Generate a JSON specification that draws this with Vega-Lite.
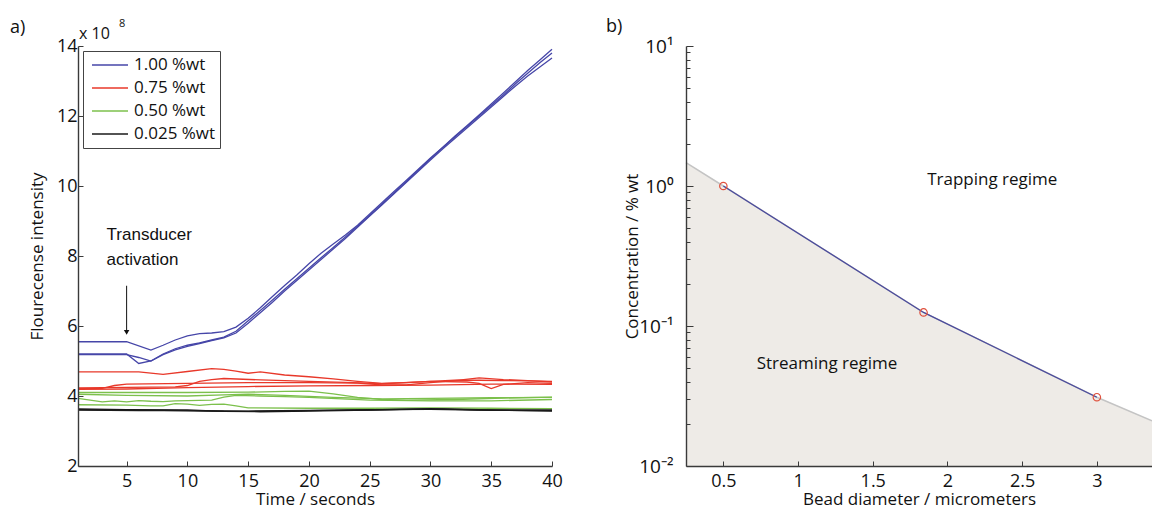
{
  "$schema": "https://vega.github.io/schema/vega-lite/v6.json",
  "background": "white",
  "padding": {"left": 10, "top": 18, "right": 0, "bottom": 0},
  "bounds": "flush",
  "spacing": 134,
  "config": {
    "font": "Open Sans",
    "view": {"stroke": null},
    "axis": {
      "grid": false,
      "zindex": 1,
      "domainColor": "#3a3a3a",
      "domainWidth": 1.4,
      "tickColor": "#3a3a3a",
      "tickWidth": 1,
      "tickSize": -5,
      "labelPadding": 6,
      "labelFlush": false,
      "labelColor": "#111",
      "titleColor": "#111",
      "labelFont": "Open Sans",
      "titleFont": "Open Sans",
      "labelFontSize": 18,
      "titleFontSize": 17,
      "titleFontWeight": "normal"
    }
  },
  "datasets": {
    "runs": [
      {"t":1,"v":5.55,"c":"1.00 %wt","r":"b1"},{"t":5,"v":5.55,"c":"1.00 %wt","r":"b1"},{"t":7,"v":5.31,"c":"1.00 %wt","r":"b1"},{"t":8,"v":5.45,"c":"1.00 %wt","r":"b1"},{"t":9,"v":5.6,"c":"1.00 %wt","r":"b1"},{"t":10,"v":5.72,"c":"1.00 %wt","r":"b1"},{"t":11,"v":5.78,"c":"1.00 %wt","r":"b1"},{"t":12,"v":5.8,"c":"1.00 %wt","r":"b1"},{"t":13,"v":5.84,"c":"1.00 %wt","r":"b1"},{"t":14,"v":5.97,"c":"1.00 %wt","r":"b1"},{"t":15,"v":6.22,"c":"1.00 %wt","r":"b1"},{"t":16,"v":6.52,"c":"1.00 %wt","r":"b1"},{"t":17,"v":6.84,"c":"1.00 %wt","r":"b1"},{"t":18,"v":7.16,"c":"1.00 %wt","r":"b1"},{"t":19,"v":7.46,"c":"1.00 %wt","r":"b1"},{"t":20,"v":7.78,"c":"1.00 %wt","r":"b1"},{"t":21,"v":8.08,"c":"1.00 %wt","r":"b1"},{"t":22,"v":8.34,"c":"1.00 %wt","r":"b1"},{"t":23,"v":8.6,"c":"1.00 %wt","r":"b1"},{"t":24,"v":8.88,"c":"1.00 %wt","r":"b1"},{"t":25,"v":9.2,"c":"1.00 %wt","r":"b1"},{"t":26,"v":9.52,"c":"1.00 %wt","r":"b1"},{"t":27,"v":9.84,"c":"1.00 %wt","r":"b1"},{"t":28,"v":10.16,"c":"1.00 %wt","r":"b1"},{"t":29,"v":10.48,"c":"1.00 %wt","r":"b1"},{"t":30,"v":10.8,"c":"1.00 %wt","r":"b1"},{"t":31,"v":11.1,"c":"1.00 %wt","r":"b1"},{"t":32,"v":11.4,"c":"1.00 %wt","r":"b1"},{"t":33,"v":11.7,"c":"1.00 %wt","r":"b1"},{"t":34,"v":12.0,"c":"1.00 %wt","r":"b1"},{"t":35,"v":12.3,"c":"1.00 %wt","r":"b1"},{"t":36,"v":12.6,"c":"1.00 %wt","r":"b1"},{"t":37,"v":12.92,"c":"1.00 %wt","r":"b1"},{"t":38,"v":13.22,"c":"1.00 %wt","r":"b1"},{"t":39,"v":13.52,"c":"1.00 %wt","r":"b1"},{"t":40,"v":13.8,"c":"1.00 %wt","r":"b1"},
      {"t":1,"v":5.2,"c":"1.00 %wt","r":"b2"},{"t":5,"v":5.2,"c":"1.00 %wt","r":"b2"},{"t":6,"v":4.93,"c":"1.00 %wt","r":"b2"},{"t":7,"v":5.0,"c":"1.00 %wt","r":"b2"},{"t":8,"v":5.2,"c":"1.00 %wt","r":"b2"},{"t":9,"v":5.35,"c":"1.00 %wt","r":"b2"},{"t":10,"v":5.45,"c":"1.00 %wt","r":"b2"},{"t":11,"v":5.52,"c":"1.00 %wt","r":"b2"},{"t":12,"v":5.6,"c":"1.00 %wt","r":"b2"},{"t":13,"v":5.68,"c":"1.00 %wt","r":"b2"},{"t":14,"v":5.85,"c":"1.00 %wt","r":"b2"},{"t":15,"v":6.15,"c":"1.00 %wt","r":"b2"},{"t":16,"v":6.44,"c":"1.00 %wt","r":"b2"},{"t":17,"v":6.74,"c":"1.00 %wt","r":"b2"},{"t":18,"v":7.05,"c":"1.00 %wt","r":"b2"},{"t":19,"v":7.35,"c":"1.00 %wt","r":"b2"},{"t":20,"v":7.65,"c":"1.00 %wt","r":"b2"},{"t":21,"v":7.95,"c":"1.00 %wt","r":"b2"},{"t":22,"v":8.24,"c":"1.00 %wt","r":"b2"},{"t":23,"v":8.54,"c":"1.00 %wt","r":"b2"},{"t":24,"v":8.85,"c":"1.00 %wt","r":"b2"},{"t":25,"v":9.16,"c":"1.00 %wt","r":"b2"},{"t":26,"v":9.48,"c":"1.00 %wt","r":"b2"},{"t":27,"v":9.8,"c":"1.00 %wt","r":"b2"},{"t":28,"v":10.12,"c":"1.00 %wt","r":"b2"},{"t":29,"v":10.45,"c":"1.00 %wt","r":"b2"},{"t":30,"v":10.78,"c":"1.00 %wt","r":"b2"},{"t":31,"v":11.1,"c":"1.00 %wt","r":"b2"},{"t":32,"v":11.42,"c":"1.00 %wt","r":"b2"},{"t":33,"v":11.72,"c":"1.00 %wt","r":"b2"},{"t":34,"v":12.03,"c":"1.00 %wt","r":"b2"},{"t":35,"v":12.34,"c":"1.00 %wt","r":"b2"},{"t":36,"v":12.66,"c":"1.00 %wt","r":"b2"},{"t":37,"v":12.98,"c":"1.00 %wt","r":"b2"},{"t":38,"v":13.3,"c":"1.00 %wt","r":"b2"},{"t":39,"v":13.6,"c":"1.00 %wt","r":"b2"},{"t":40,"v":13.91,"c":"1.00 %wt","r":"b2"},
      {"t":1,"v":5.18,"c":"1.00 %wt","r":"b3"},{"t":5,"v":5.18,"c":"1.00 %wt","r":"b3"},{"t":6,"v":5.1,"c":"1.00 %wt","r":"b3"},{"t":7,"v":5.0,"c":"1.00 %wt","r":"b3"},{"t":8,"v":5.18,"c":"1.00 %wt","r":"b3"},{"t":9,"v":5.32,"c":"1.00 %wt","r":"b3"},{"t":10,"v":5.42,"c":"1.00 %wt","r":"b3"},{"t":11,"v":5.5,"c":"1.00 %wt","r":"b3"},{"t":12,"v":5.58,"c":"1.00 %wt","r":"b3"},{"t":13,"v":5.66,"c":"1.00 %wt","r":"b3"},{"t":14,"v":5.8,"c":"1.00 %wt","r":"b3"},{"t":15,"v":6.08,"c":"1.00 %wt","r":"b3"},{"t":16,"v":6.38,"c":"1.00 %wt","r":"b3"},{"t":17,"v":6.68,"c":"1.00 %wt","r":"b3"},{"t":18,"v":7.0,"c":"1.00 %wt","r":"b3"},{"t":19,"v":7.3,"c":"1.00 %wt","r":"b3"},{"t":20,"v":7.6,"c":"1.00 %wt","r":"b3"},{"t":21,"v":7.9,"c":"1.00 %wt","r":"b3"},{"t":22,"v":8.2,"c":"1.00 %wt","r":"b3"},{"t":23,"v":8.5,"c":"1.00 %wt","r":"b3"},{"t":24,"v":8.82,"c":"1.00 %wt","r":"b3"},{"t":25,"v":9.14,"c":"1.00 %wt","r":"b3"},{"t":26,"v":9.46,"c":"1.00 %wt","r":"b3"},{"t":27,"v":9.78,"c":"1.00 %wt","r":"b3"},{"t":28,"v":10.1,"c":"1.00 %wt","r":"b3"},{"t":29,"v":10.42,"c":"1.00 %wt","r":"b3"},{"t":30,"v":10.74,"c":"1.00 %wt","r":"b3"},{"t":31,"v":11.06,"c":"1.00 %wt","r":"b3"},{"t":32,"v":11.36,"c":"1.00 %wt","r":"b3"},{"t":33,"v":11.66,"c":"1.00 %wt","r":"b3"},{"t":34,"v":11.96,"c":"1.00 %wt","r":"b3"},{"t":35,"v":12.26,"c":"1.00 %wt","r":"b3"},{"t":36,"v":12.56,"c":"1.00 %wt","r":"b3"},{"t":37,"v":12.86,"c":"1.00 %wt","r":"b3"},{"t":38,"v":13.14,"c":"1.00 %wt","r":"b3"},{"t":39,"v":13.4,"c":"1.00 %wt","r":"b3"},{"t":40,"v":13.66,"c":"1.00 %wt","r":"b3"},
      {"t":1,"v":4.69,"c":"0.75 %wt","r":"r1"},{"t":6,"v":4.69,"c":"0.75 %wt","r":"r1"},{"t":8,"v":4.62,"c":"0.75 %wt","r":"r1"},{"t":10,"v":4.7,"c":"0.75 %wt","r":"r1"},{"t":12,"v":4.78,"c":"0.75 %wt","r":"r1"},{"t":13,"v":4.76,"c":"0.75 %wt","r":"r1"},{"t":14,"v":4.71,"c":"0.75 %wt","r":"r1"},{"t":15,"v":4.65,"c":"0.75 %wt","r":"r1"},{"t":16,"v":4.69,"c":"0.75 %wt","r":"r1"},{"t":18,"v":4.6,"c":"0.75 %wt","r":"r1"},{"t":20,"v":4.55,"c":"0.75 %wt","r":"r1"},{"t":22,"v":4.49,"c":"0.75 %wt","r":"r1"},{"t":24,"v":4.42,"c":"0.75 %wt","r":"r1"},{"t":26,"v":4.36,"c":"0.75 %wt","r":"r1"},{"t":28,"v":4.38,"c":"0.75 %wt","r":"r1"},{"t":30,"v":4.42,"c":"0.75 %wt","r":"r1"},{"t":32,"v":4.45,"c":"0.75 %wt","r":"r1"},{"t":34,"v":4.45,"c":"0.75 %wt","r":"r1"},{"t":36,"v":4.44,"c":"0.75 %wt","r":"r1"},{"t":38,"v":4.43,"c":"0.75 %wt","r":"r1"},{"t":40,"v":4.42,"c":"0.75 %wt","r":"r1"},
      {"t":1,"v":4.21,"c":"0.75 %wt","r":"r2"},{"t":3,"v":4.22,"c":"0.75 %wt","r":"r2"},{"t":4,"v":4.3,"c":"0.75 %wt","r":"r2"},{"t":5,"v":4.34,"c":"0.75 %wt","r":"r2"},{"t":10,"v":4.36,"c":"0.75 %wt","r":"r2"},{"t":15,"v":4.38,"c":"0.75 %wt","r":"r2"},{"t":20,"v":4.38,"c":"0.75 %wt","r":"r2"},{"t":24,"v":4.37,"c":"0.75 %wt","r":"r2"},{"t":26,"v":4.32,"c":"0.75 %wt","r":"r2"},{"t":28,"v":4.32,"c":"0.75 %wt","r":"r2"},{"t":30,"v":4.38,"c":"0.75 %wt","r":"r2"},{"t":32,"v":4.44,"c":"0.75 %wt","r":"r2"},{"t":34,"v":4.52,"c":"0.75 %wt","r":"r2"},{"t":36,"v":4.47,"c":"0.75 %wt","r":"r2"},{"t":38,"v":4.44,"c":"0.75 %wt","r":"r2"},{"t":40,"v":4.4,"c":"0.75 %wt","r":"r2"},
      {"t":1,"v":4.23,"c":"0.75 %wt","r":"r3"},{"t":9,"v":4.26,"c":"0.75 %wt","r":"r3"},{"t":10,"v":4.3,"c":"0.75 %wt","r":"r3"},{"t":11,"v":4.42,"c":"0.75 %wt","r":"r3"},{"t":12,"v":4.47,"c":"0.75 %wt","r":"r3"},{"t":13,"v":4.5,"c":"0.75 %wt","r":"r3"},{"t":16,"v":4.46,"c":"0.75 %wt","r":"r3"},{"t":20,"v":4.42,"c":"0.75 %wt","r":"r3"},{"t":23,"v":4.39,"c":"0.75 %wt","r":"r3"},{"t":26,"v":4.35,"c":"0.75 %wt","r":"r3"},{"t":30,"v":4.42,"c":"0.75 %wt","r":"r3"},{"t":33,"v":4.4,"c":"0.75 %wt","r":"r3"},{"t":34,"v":4.36,"c":"0.75 %wt","r":"r3"},{"t":35,"v":4.21,"c":"0.75 %wt","r":"r3"},{"t":36,"v":4.33,"c":"0.75 %wt","r":"r3"},{"t":38,"v":4.38,"c":"0.75 %wt","r":"r3"},{"t":40,"v":4.36,"c":"0.75 %wt","r":"r3"},
      {"t":1,"v":4.19,"c":"0.75 %wt","r":"r4"},{"t":5,"v":4.2,"c":"0.75 %wt","r":"r4"},{"t":10,"v":4.24,"c":"0.75 %wt","r":"r4"},{"t":15,"v":4.27,"c":"0.75 %wt","r":"r4"},{"t":20,"v":4.29,"c":"0.75 %wt","r":"r4"},{"t":25,"v":4.3,"c":"0.75 %wt","r":"r4"},{"t":30,"v":4.31,"c":"0.75 %wt","r":"r4"},{"t":35,"v":4.34,"c":"0.75 %wt","r":"r4"},{"t":40,"v":4.33,"c":"0.75 %wt","r":"r4"},
      {"t":1,"v":4.1,"c":"0.50 %wt","r":"g1"},{"t":5,"v":4.1,"c":"0.50 %wt","r":"g1"},{"t":10,"v":4.1,"c":"0.50 %wt","r":"g1"},{"t":15,"v":4.11,"c":"0.50 %wt","r":"g1"},{"t":18,"v":4.13,"c":"0.50 %wt","r":"g1"},{"t":20,"v":4.14,"c":"0.50 %wt","r":"g1"},{"t":22,"v":4.06,"c":"0.50 %wt","r":"g1"},{"t":24,"v":3.96,"c":"0.50 %wt","r":"g1"},{"t":26,"v":3.9,"c":"0.50 %wt","r":"g1"},{"t":28,"v":3.88,"c":"0.50 %wt","r":"g1"},{"t":32,"v":3.9,"c":"0.50 %wt","r":"g1"},{"t":36,"v":3.94,"c":"0.50 %wt","r":"g1"},{"t":40,"v":3.97,"c":"0.50 %wt","r":"g1"},
      {"t":1,"v":4.05,"c":"0.50 %wt","r":"g2"},{"t":5,"v":4.02,"c":"0.50 %wt","r":"g2"},{"t":10,"v":4.0,"c":"0.50 %wt","r":"g2"},{"t":13,"v":4.03,"c":"0.50 %wt","r":"g2"},{"t":15,"v":4.05,"c":"0.50 %wt","r":"g2"},{"t":18,"v":4.02,"c":"0.50 %wt","r":"g2"},{"t":22,"v":3.96,"c":"0.50 %wt","r":"g2"},{"t":26,"v":3.92,"c":"0.50 %wt","r":"g2"},{"t":30,"v":3.93,"c":"0.50 %wt","r":"g2"},{"t":35,"v":3.95,"c":"0.50 %wt","r":"g2"},{"t":40,"v":3.96,"c":"0.50 %wt","r":"g2"},
      {"t":1,"v":3.93,"c":"0.50 %wt","r":"g3"},{"t":2,"v":3.88,"c":"0.50 %wt","r":"g3"},{"t":3,"v":3.83,"c":"0.50 %wt","r":"g3"},{"t":4,"v":3.86,"c":"0.50 %wt","r":"g3"},{"t":5,"v":3.83,"c":"0.50 %wt","r":"g3"},{"t":6,"v":3.87,"c":"0.50 %wt","r":"g3"},{"t":7,"v":3.85,"c":"0.50 %wt","r":"g3"},{"t":8,"v":3.84,"c":"0.50 %wt","r":"g3"},{"t":9,"v":3.86,"c":"0.50 %wt","r":"g3"},{"t":10,"v":3.87,"c":"0.50 %wt","r":"g3"},{"t":12,"v":3.88,"c":"0.50 %wt","r":"g3"},{"t":13,"v":3.97,"c":"0.50 %wt","r":"g3"},{"t":14,"v":4.02,"c":"0.50 %wt","r":"g3"},{"t":16,"v":4.0,"c":"0.50 %wt","r":"g3"},{"t":18,"v":3.98,"c":"0.50 %wt","r":"g3"},{"t":20,"v":3.96,"c":"0.50 %wt","r":"g3"},{"t":25,"v":3.88,"c":"0.50 %wt","r":"g3"},{"t":30,"v":3.86,"c":"0.50 %wt","r":"g3"},{"t":35,"v":3.86,"c":"0.50 %wt","r":"g3"},{"t":40,"v":3.9,"c":"0.50 %wt","r":"g3"},
      {"t":1,"v":3.75,"c":"0.50 %wt","r":"g4"},{"t":5,"v":3.74,"c":"0.50 %wt","r":"g4"},{"t":7,"v":3.72,"c":"0.50 %wt","r":"g4"},{"t":8,"v":3.72,"c":"0.50 %wt","r":"g4"},{"t":9,"v":3.78,"c":"0.50 %wt","r":"g4"},{"t":10,"v":3.77,"c":"0.50 %wt","r":"g4"},{"t":11,"v":3.73,"c":"0.50 %wt","r":"g4"},{"t":12,"v":3.76,"c":"0.50 %wt","r":"g4"},{"t":13,"v":3.77,"c":"0.50 %wt","r":"g4"},{"t":14,"v":3.72,"c":"0.50 %wt","r":"g4"},{"t":15,"v":3.66,"c":"0.50 %wt","r":"g4"},{"t":20,"v":3.65,"c":"0.50 %wt","r":"g4"},{"t":25,"v":3.65,"c":"0.50 %wt","r":"g4"},{"t":30,"v":3.66,"c":"0.50 %wt","r":"g4"},{"t":35,"v":3.65,"c":"0.50 %wt","r":"g4"},{"t":40,"v":3.64,"c":"0.50 %wt","r":"g4"},
      {"t":1,"v":3.63,"c":"0.025 %wt","r":"k1"},{"t":5,"v":3.61,"c":"0.025 %wt","r":"k1"},{"t":10,"v":3.6,"c":"0.025 %wt","r":"k1"},{"t":13,"v":3.56,"c":"0.025 %wt","r":"k1"},{"t":16,"v":3.55,"c":"0.025 %wt","r":"k1"},{"t":20,"v":3.57,"c":"0.025 %wt","r":"k1"},{"t":25,"v":3.6,"c":"0.025 %wt","r":"k1"},{"t":30,"v":3.64,"c":"0.025 %wt","r":"k1"},{"t":32,"v":3.62,"c":"0.025 %wt","r":"k1"},{"t":35,"v":3.59,"c":"0.025 %wt","r":"k1"},{"t":40,"v":3.58,"c":"0.025 %wt","r":"k1"},
      {"t":1,"v":3.61,"c":"0.025 %wt","r":"k2"},{"t":5,"v":3.6,"c":"0.025 %wt","r":"k2"},{"t":8,"v":3.59,"c":"0.025 %wt","r":"k2"},{"t":12,"v":3.57,"c":"0.025 %wt","r":"k2"},{"t":16,"v":3.56,"c":"0.025 %wt","r":"k2"},{"t":20,"v":3.58,"c":"0.025 %wt","r":"k2"},{"t":25,"v":3.61,"c":"0.025 %wt","r":"k2"},{"t":30,"v":3.62,"c":"0.025 %wt","r":"k2"},{"t":34,"v":3.6,"c":"0.025 %wt","r":"k2"},{"t":40,"v":3.6,"c":"0.025 %wt","r":"k2"},
      {"t":1,"v":3.6,"c":"0.025 %wt","r":"k3"},{"t":6,"v":3.58,"c":"0.025 %wt","r":"k3"},{"t":10,"v":3.58,"c":"0.025 %wt","r":"k3"},{"t":15,"v":3.57,"c":"0.025 %wt","r":"k3"},{"t":20,"v":3.59,"c":"0.025 %wt","r":"k3"},{"t":25,"v":3.6,"c":"0.025 %wt","r":"k3"},{"t":31,"v":3.63,"c":"0.025 %wt","r":"k3"},{"t":35,"v":3.6,"c":"0.025 %wt","r":"k3"},{"t":40,"v":3.57,"c":"0.025 %wt","r":"k3"}
    ],
    "boundary": [
      {"d": 0.25, "c": 1.47},
      {"d": 0.5, "c": 1.0},
      {"d": 1.84, "c": 0.125},
      {"d": 3.0, "c": 0.031},
      {"d": 3.369, "c": 0.021}
    ],
    "measured": [
      {"d": 0.5, "c": 1.0},
      {"d": 1.84, "c": 0.125},
      {"d": 3.0, "c": 0.031}
    ],
    "one": [{}]
  },
  "hconcat": [
    {
      "width": 474,
      "height": 420,
      "layer": [
        {
          "data": {"name": "runs"},
          "mark": {"type": "line", "strokeWidth": 1.3},
          "encoding": {
            "x": {"field": "t", "type": "quantitative", "scale": {"domain": [1, 40], "nice": false, "zero": false},
                  "axis": {"values": [5,10,15,20,25,30,35,40], "title": "Time / seconds", "titlePadding": 1, "labelPadding": 11, "zindex": 1}},
            "y": {"field": "v", "type": "quantitative", "scale": {"domain": [2, 14], "nice": false, "zero": false},
                  "axis": {"values": [2,4,6,8,10,12,14], "title": "Flourecense intensity", "titlePadding": 10, "labelPadding": 6, "zindex": 1}},
            "color": {"field": "c", "type": "nominal",
                      "scale": {"domain": ["1.00 %wt", "0.75 %wt", "0.50 %wt", "0.025 %wt"], "range": ["#4646a8", "#e8382a", "#7cc04c", "#1a1a1a"]},
                      "legend": {"title": null, "orient": "top-left", "offset": 5, "padding": 4, "strokeColor": "#444",
                                 "symbolType": "stroke", "symbolSize": 1300, "symbolStrokeWidth": 1.3, "clipHeight": 20, "symbolOffset": 4,
                                 "labelFontSize": 17, "labelFont": "Open Sans", "labelColor": "#111", "rowPadding": 3, "labelOffset": 5}},
            "detail": {"field": "r"}
          }
        },
        {
          "data": {"name": "one"},
          "mark": {"type": "rule", "color": "#111", "strokeWidth": 1},
          "encoding": {"x": {"datum": 5}, "y": {"datum": 7.15}, "y2": {"datum": 5.8}}
        },
        {
          "data": {"name": "one"},
          "mark": {"type": "point", "shape": "triangle-down", "filled": true, "color": "#111", "size": 30, "opacity": 1},
          "encoding": {"x": {"datum": 5}, "y": {"datum": 5.82}}
        },
        {
          "data": {"name": "one"},
          "mark": {"type": "text", "font": "Liberation Sans", "fontSize": 17, "align": "left", "baseline": "middle", "color": "#111"},
          "encoding": {"x": {"datum": 3.35}, "y": {"datum": 8.6}, "text": {"value": "Transducer"}}
        },
        {
          "data": {"name": "one"},
          "mark": {"type": "text", "font": "Liberation Sans", "fontSize": 17, "align": "left", "baseline": "middle", "color": "#111"},
          "encoding": {"x": {"datum": 3.35}, "y": {"datum": 7.9}, "text": {"value": "activation"}}
        },
        {
          "data": {"name": "one"},
          "mark": {"type": "text", "fontSize": 16, "align": "left", "baseline": "alphabetic", "dx": 1, "dy": -7, "color": "#111"},
          "encoding": {"x": {"datum": 1}, "y": {"datum": 14}, "text": {"value": "x 10"}}
        },
        {
          "data": {"name": "one"},
          "mark": {"type": "text", "fontSize": 11, "align": "left", "baseline": "alphabetic", "dx": 41, "dy": -19, "color": "#111"},
          "encoding": {"x": {"datum": 1}, "y": {"datum": 14}, "text": {"value": "8"}}
        },
        {
          "data": {"name": "one"},
          "mark": {"type": "text", "fontSize": 18, "align": "left", "baseline": "middle", "dx": -68, "dy": -18, "color": "#111"},
          "encoding": {"x": {"datum": 1}, "y": {"datum": 14}, "text": {"value": "a)"}}
        }
      ]
    },
    {
      "width": 466,
      "height": 420,
      "layer": [
        {
          "data": {"name": "boundary"},
          "mark": {"type": "area", "color": "#eeebe7", "opacity": 1},
          "encoding": {
            "x": {"field": "d", "type": "quantitative", "scale": {"domain": [0.25, 3.369], "nice": false, "zero": false},
                  "axis": {"values": [0.5,1,1.5,2,2.5,3], "format": "~g", "title": "Bead diameter / micrometers", "titlePadding": 1, "labelPadding": 11, "zindex": 1}},
            "y": {"field": "c", "type": "quantitative", "scale": {"type": "log", "domain": [0.01, 10], "nice": false},
                  "axis": {"values": [0.01,0.02,0.03,0.04,0.05,0.06,0.07,0.08,0.09,0.1,0.2,0.3,0.4,0.5,0.6,0.7,0.8,0.9,1,2,3,4,5,6,7,8,9,10],
                           "labelExpr": "datum.value === 10 ? '10¹' : datum.value === 1 ? '10⁰' : datum.value === 0.1 ? '10⁻¹' : datum.value === 0.01 ? '10⁻²' : ''",
                           "tickSize": {"condition": {"test": "datum.value === 10 || datum.value === 1 || datum.value === 0.1 || datum.value === 0.01", "value": -7}, "value": -4},
                           "labelPadding": 20, "title": "Concentration / % wt", "titlePadding": -3, "labelFontSize": 19, "zindex": 1}},
            "y2": {"datum": 0.01}
          }
        },
        {
          "data": {"name": "boundary"},
          "mark": {"type": "line", "color": "#c4c4c4", "strokeWidth": 1.5},
          "encoding": {"x": {"field": "d", "type": "quantitative"}, "y": {"field": "c", "type": "quantitative"}}
        },
        {
          "data": {"name": "boundary"},
          "transform": [{"filter": "datum.d >= 0.5 && datum.d <= 3"}],
          "mark": {"type": "line", "color": "#4a4a9c", "strokeWidth": 1.3},
          "encoding": {"x": {"field": "d", "type": "quantitative"}, "y": {"field": "c", "type": "quantitative"}}
        },
        {
          "data": {"name": "measured"},
          "mark": {"type": "point", "shape": "circle", "filled": false, "color": "#e0503c", "size": 55, "strokeWidth": 1.2, "opacity": 1},
          "encoding": {"x": {"field": "d", "type": "quantitative"}, "y": {"field": "c", "type": "quantitative"}}
        },
        {
          "data": {"name": "one"},
          "mark": {"type": "text", "fontSize": 17, "align": "center", "baseline": "middle", "color": "#111"},
          "encoding": {"x": {"datum": 2.3}, "y": {"datum": 1.1}, "text": {"value": "Trapping regime"}}
        },
        {
          "data": {"name": "one"},
          "mark": {"type": "text", "fontSize": 17, "align": "center", "baseline": "middle", "color": "#111"},
          "encoding": {"x": {"datum": 1.194}, "y": {"datum": 0.0535}, "text": {"value": "Streaming regime"}}
        },
        {
          "data": {"name": "one"},
          "mark": {"type": "text", "fontSize": 18, "align": "left", "baseline": "middle", "dx": -80, "dy": -19, "color": "#111"},
          "encoding": {"x": {"datum": 0.25}, "y": {"datum": 10}, "text": {"value": "b)"}}
        }
      ]
    }
  ]
}
